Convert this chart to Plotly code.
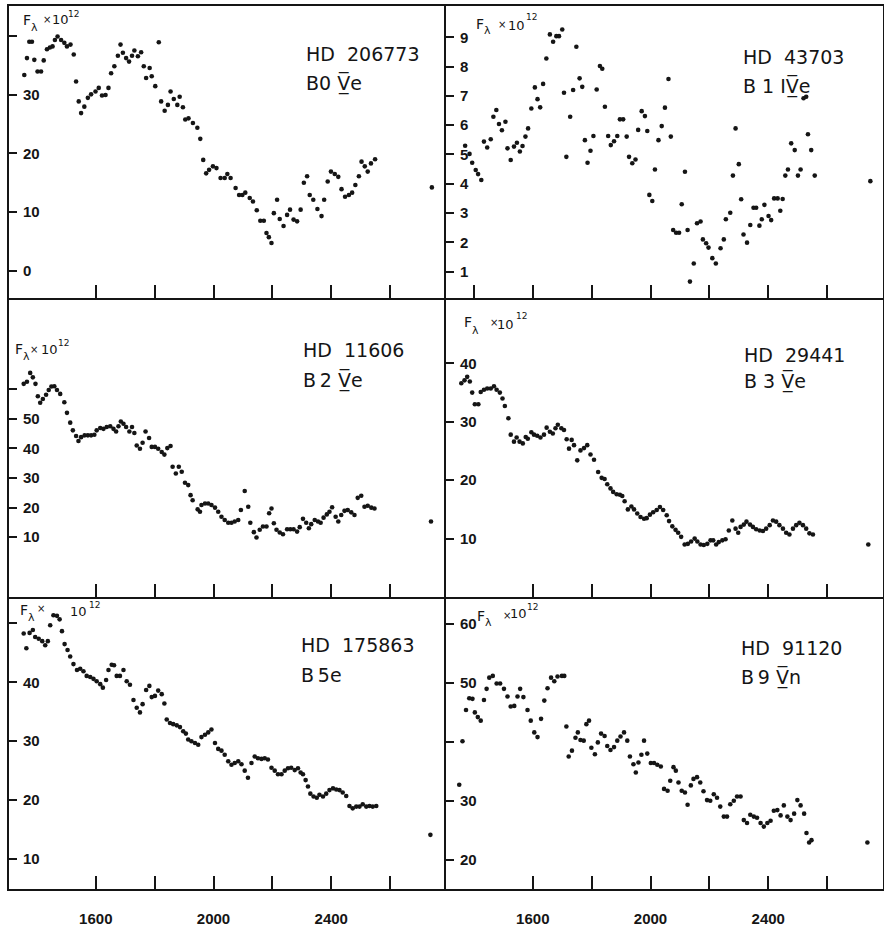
import plotly.graph_objects as go
from plotly.subplots import make_subplots

# ---------------- data (wavelength in Angstrom, flux F_lambda x 10^12) ----------------
HD206773 = [(1357,33.4),(1366,36.3),(1374,39.1),(1383,39.1),(1391,36.0),(1402,34.0),(1414,34.0),(1423,35.9),
            (1434,37.8),(1444,38.1),(1453,38.3),(1461,39.4),(1470,40.0),(1482,39.4),(1493,38.9),(1502,38.3),
            (1514,38.6),(1525,36.9),(1533,32.3),(1542,28.9),(1550,26.9),(1561,28.0),(1573,29.5),(1584,30.1),
            (1599,30.6),(1610,31.2),(1621,29.9),(1633,30.0),(1643,31.2),(1652,33.7),(1663,34.9),(1675,36.7),
            (1684,38.6),(1692,37.2),(1703,36.3),(1713,35.7),(1723,36.7),(1731,37.6),(1743,36.6),(1754,37.3),
            (1763,34.9),(1771,32.9),(1783,34.6),(1790,33.2),(1802,31.5),(1814,39.0),(1822,28.9),(1834,27.3),
            (1845,28.3),(1854,30.6),(1865,29.3),(1877,28.3),(1885,29.7),(1896,27.9),(1904,25.8),(1915,26.0),
            (1930,25.2),(1945,24.4),(1955,22.5),(1965,18.9),(1975,16.6),(1985,17.2),(1998,17.8),(2010,17.5),
            (2024,15.8),(2038,15.8),(2047,16.5),(2058,15.8),(2075,14.1),(2087,12.9),(2098,12.9),(2108,13.3),
            (2123,12.4),(2134,11.8),(2147,10.3),(2159,8.5),(2171,8.5),(2180,6.4),(2188,5.7),(2197,4.7),
            (2205,9.8),(2216,12.1),(2225,8.8),(2238,7.6),(2250,9.5),(2260,10.4),(2272,8.7),(2284,8.4),
            (2296,10.4),(2307,15.0),(2318,16.1),(2327,12.9),(2339,12.1),(2353,10.5),(2367,9.3),(2376,12.1),
            (2388,15.2),(2399,16.9),(2412,16.5),(2424,16.0),(2435,13.9),(2447,12.6),(2460,12.9),(2471,13.3),
            (2482,14.6),(2494,16.1),(2503,18.6),(2514,17.8),(2524,16.9),(2535,18.3),(2549,19.0),(2742,14.2)]

HD43703 = [(1370,5.30),(1385,5.02),(1394,4.72),(1406,4.47),(1414,4.33),(1425,4.13),(1434,5.44),(1445,5.24),
           (1457,5.52),(1466,6.29),(1476,6.52),(1485,6.04),(1495,5.83),(1507,6.12),(1514,5.21),(1525,4.81),
           (1536,5.27),(1546,5.40),(1556,5.10),(1565,5.29),(1575,5.61),(1584,5.89),(1595,6.57),(1607,7.29),
           (1616,6.89),(1625,6.61),(1635,7.41),(1646,8.28),(1658,9.10),(1669,8.85),(1680,9.04),(1689,9.04),
           (1700,9.27),(1706,7.11),(1714,4.92),(1727,6.29),(1737,7.20),(1748,8.68),(1759,7.60),(1768,7.31),
           (1777,5.49),(1786,4.72),(1796,5.13),(1806,5.63),(1817,7.22),(1828,8.02),(1836,7.93),(1845,6.63),
           (1856,5.63),(1865,5.32),(1876,5.45),(1887,5.63),(1896,6.20),(1907,6.20),(1919,5.61),(1927,4.92),
           (1938,4.70),(1949,4.83),(1958,5.84),(1970,6.48),(1981,6.31),(1989,5.80),(1996,3.62),(2006,3.41),
           (2015,4.49),(2027,5.49),(2038,5.97),(2049,6.60),(2061,7.58),(2069,5.61),(2077,2.42),(2087,2.33),
           (2097,2.33),(2106,3.30),(2117,4.41),(2126,2.42),(2134,0.66),(2147,1.28),(2158,2.65),(2170,2.71),
           (2178,2.10),(2189,1.97),(2197,1.82),(2210,1.46),(2222,1.28),(2238,1.80),(2249,2.10),(2256,2.79),
           (2271,3.01),(2280,4.28),(2289,5.89),(2300,4.67),(2308,3.47),(2316,2.27),(2328,1.99),(2339,2.59),
           (2350,3.18),(2359,3.18),(2370,2.57),(2378,2.79),(2387,3.28),(2401,2.90),(2410,2.76),(2420,3.50),
           (2432,3.50),(2441,3.08),(2449,3.48),(2458,4.28),(2467,4.49),(2478,5.38),(2490,5.15),(2501,4.28),
           (2510,4.49),(2520,6.92),(2529,6.97),(2535,5.69),(2546,5.15),(2558,4.28),(2747,4.09)]

HD11606 = [(1355,61.8),(1366,62.5),(1377,65.5),(1386,64.0),(1395,61.8),(1403,57.6),(1411,55.4),(1420,56.7),
           (1431,58.1),(1440,59.7),(1449,60.9),(1459,61.0),(1468,59.7),(1479,58.4),(1493,55.6),(1502,52.0),
           (1513,48.7),(1522,46.1),(1533,44.2),(1541,42.5),(1550,43.8),(1562,44.4),(1573,44.4),(1584,44.4),
           (1595,44.6),(1603,46.1),(1615,46.9),(1626,46.6),(1637,47.2),(1649,47.5),(1660,46.6),(1669,45.7),
           (1677,47.5),(1685,49.1),(1694,48.3),(1703,47.2),(1714,45.7),(1723,47.2),(1731,45.2),(1739,41.0),
           (1750,39.9),(1759,41.9),(1769,45.7),(1781,43.5),(1790,40.5),(1801,40.5),(1812,39.9),(1824,38.8),
           (1833,37.9),(1843,40.1),(1854,40.8),(1861,33.8),(1872,31.5),(1882,33.8),(1892,32.1),(1903,28.4),
           (1914,27.6),(1922,24.2),(1929,22.5),(1946,19.4),(1954,18.6),(1959,20.9),(1971,21.4),(1982,21.4),
           (1993,20.9),(2005,20.0),(2016,18.6),(2027,16.9),(2038,15.8),(2050,14.9),(2061,14.9),(2072,15.3),
           (2084,15.8),(2093,19.2),(2106,25.6),(2118,20.3),(2125,14.9),(2137,11.7),(2146,9.9),(2157,12.5),
           (2168,13.6),(2180,13.6),(2189,18.1),(2197,19.7),(2205,14.7),(2214,12.5),(2225,11.6),(2236,11.0),
           (2250,12.7),(2261,12.7),(2272,12.7),(2284,11.9),(2293,13.4),(2304,16.2),(2315,14.9),(2324,13.0),
           (2332,14.4),(2344,15.8),(2355,15.3),(2364,14.9),(2374,16.6),(2385,17.7),(2394,18.6),(2403,20.1),
           (2415,16.9),(2424,15.3),(2434,17.5),(2445,18.9),(2456,19.2),(2468,18.4),(2479,17.5),(2490,23.3),
           (2502,24.0),(2513,20.3),(2524,20.6),(2536,20.0),(2547,19.7),(2739,15.3)]

HD29441 = [(1357,36.6),(1368,37.1),(1377,37.7),(1386,36.9),(1394,35.0),(1403,33.0),(1415,33.0),(1423,35.1),
           (1434,35.5),(1445,35.7),(1457,35.7),(1468,36.1),(1477,35.5),(1488,35.0),(1497,34.0),(1505,32.7),
           (1517,30.6),(1525,27.8),(1536,26.6),(1545,27.3),(1555,26.6),(1566,26.3),(1576,27.4),(1583,27.1),
           (1595,28.2),(1604,27.8),(1615,27.6),(1626,27.3),(1638,27.8),(1647,29.0),(1658,28.3),(1668,28.0),
           (1677,28.9),(1685,29.5),(1697,28.9),(1706,28.6),(1715,27.0),(1723,25.4),(1732,26.9),(1740,26.0),
           (1751,23.4),(1762,25.1),(1774,25.5),(1785,26.0),(1796,24.4),(1808,23.5),(1822,21.4),(1834,20.4),
           (1844,20.2),(1853,19.3),(1864,18.6),(1873,18.0),(1885,17.6),(1896,17.5),(1904,17.3),(1912,16.4),
           (1923,15.0),(1935,15.5),(1944,15.0),(1955,14.3),(1966,13.7),(1978,13.4),(1987,13.5),(1998,14.1),
           (2009,14.5),(2021,14.9),(2032,15.4),(2043,14.9),(2055,14.0),(2063,13.0),(2074,12.1),(2085,11.5),
           (2094,11.0),(2104,10.3),(2116,9.0),(2127,9.1),(2138,9.5),(2150,10.0),(2159,9.5),(2170,9.0),
           (2181,8.9),(2193,9.1),(2204,9.7),(2213,9.7),(2223,9.0),(2232,9.4),(2244,9.7),(2255,9.9),
           (2266,11.4),(2278,13.1),(2289,11.7),(2298,11.0),(2306,12.0),(2317,12.4),(2326,12.9),(2338,12.4),
           (2348,12.0),(2359,11.6),(2371,11.4),(2382,11.3),(2393,11.7),(2405,12.3),(2416,13.1),(2427,12.9),
           (2438,12.3),(2450,11.7),(2461,11.0),(2472,10.7),(2484,11.7),(2495,12.3),(2506,12.7),(2518,12.3),
           (2529,11.7),(2540,10.9),(2552,10.7),(2740,9.0)]

HD175863 = [(1355,48.3),(1364,45.8),(1375,48.4),(1386,48.9),(1394,47.7),(1406,47.4),(1418,47.0),(1428,46.3),
            (1437,47.0),(1445,49.7),(1456,51.4),(1468,51.3),(1477,50.7),(1485,48.7),(1494,46.5),(1504,45.5),
            (1513,44.4),(1524,43.1),(1536,42.1),(1547,42.3),(1558,41.9),(1569,41.1),(1581,40.9),(1592,40.6),
            (1603,40.2),(1615,39.7),(1624,39.1),(1635,40.4),(1643,42.1),(1654,43.0),(1662,42.9),(1671,41.1),
            (1682,41.1),(1694,42.1),(1705,40.2),(1716,39.6),(1728,37.0),(1739,35.7),(1750,34.9),(1759,36.3),
            (1771,38.7),(1782,39.4),(1790,37.5),(1801,37.7),(1812,38.6),(1824,38.0),(1833,36.4),(1841,33.7),
            (1852,33.1),(1863,32.9),(1875,32.7),(1886,32.4),(1897,31.7),(1906,31.3),(1914,30.3),(1925,30.0),
            (1937,29.7),(1948,29.4),(1959,30.7),(1971,31.1),(1982,31.5),(1993,32.0),(2005,29.7),(2016,28.7),
            (2027,28.4),(2038,27.7),(2050,26.6),(2061,26.0),(2072,26.3),(2084,26.6),(2095,26.1),(2106,25.0),
            (2117,23.8),(2129,26.3),(2140,27.4),(2151,27.1),(2163,27.0),(2174,27.1),(2185,26.9),(2197,25.5),
            (2208,25.0),(2219,24.4),(2231,24.4),(2242,25.0),(2253,25.4),(2264,25.5),(2276,25.1),(2287,25.4),
            (2296,24.7),(2304,24.4),(2313,23.4),(2321,22.3),(2329,21.1),(2340,20.6),(2351,20.4),(2360,20.9),
            (2372,20.6),(2383,21.1),(2394,21.7),(2406,22.0),(2417,21.8),(2428,21.7),(2439,21.3),(2451,20.7),
            (2462,19.0),(2473,18.6),(2485,18.9),(2496,18.9),(2507,19.3),(2519,18.9),(2530,19.0),(2541,18.9),
            (2553,19.0),(2737,14.1)]

HD91120 = [(1350,32.7),(1361,40.1),(1373,45.4),(1384,47.4),(1395,47.3),(1403,45.0),(1413,44.2),(1423,43.6),
           (1434,47.1),(1443,49.0),(1452,50.9),(1464,51.2),(1477,49.9),(1489,49.9),(1502,49.0),(1514,47.7),
           (1525,46.0),(1537,46.1),(1548,47.7),(1557,49.0),(1568,47.6),(1582,45.4),(1593,43.6),(1605,41.6),
           (1616,40.8),(1628,43.9),(1639,47.0),(1650,49.1),(1662,50.9),(1673,50.3),(1684,51.1),(1699,51.2),
           (1707,51.2),(1714,42.6),(1722,37.5),(1733,38.5),(1745,40.7),(1753,41.6),(1762,40.3),(1773,40.2),
           (1782,43.0),(1791,43.6),(1799,39.0),(1811,37.9),(1821,39.9),(1832,41.4),(1844,41.0),(1853,39.3),
           (1864,38.6),(1876,39.1),(1887,40.2),(1898,40.9),(1910,41.6),(1921,40.2),(1930,37.5),(1942,36.2),
           (1950,34.8),(1959,36.5),(1969,37.8),(1978,40.2),(1989,38.0),(2001,36.4),(2012,36.4),(2023,36.1),
           (2035,35.8),(2046,32.0),(2058,31.7),(2067,33.4),(2078,35.7),(2086,35.1),(2095,33.1),(2106,31.7),
           (2117,31.4),(2126,29.3),(2137,32.6),(2146,33.7),(2158,34.0),(2169,33.1),(2180,31.6),(2192,30.1),
           (2203,30.0),(2215,31.1),(2226,30.5),(2237,29.0),(2249,27.3),(2260,27.3),(2271,29.4),(2283,30.0),
           (2294,30.7),(2306,30.7),(2317,26.7),(2328,26.2),(2339,27.6),(2351,27.3),(2362,27.1),(2374,26.2),
           (2385,25.6),(2397,26.2),(2408,26.6),(2419,28.3),(2431,28.4),(2442,27.5),(2453,29.2),(2465,27.3),
           (2476,26.7),(2488,27.8),(2499,30.1),(2510,29.2),(2522,27.8),(2530,24.5),(2539,22.9),(2547,23.3),
           (2737,22.9)]

STAR_NAMES = ["HD\u00a0 206773", "HD\u00a0 43703", "HD\u00a0 11606", "HD\u00a0 29441", "HD\u00a0 175863", "HD\u00a0 91120"]
SPECTRAL_TYPES = ["B0 V\u0305\u0332e", "B 1 IV\u0305\u0332e", "B\u20092 V\u0305\u0332e", "B 3 V\u0305\u0332e",
                  "B\u20095e", "B\u20099 V\u0305\u0332n"]
# axis unit label "F_lambda x 10^12", split into its pieces
UNIT_PIECES = ["F", "λ", "×", "10", "12"]

X_TICKS = [1600, 2000, 2400]
X_MINOR_TICKS = [1400, 1800, 2200, 2600]
X_ALL_TICKS = [1400, 1600, 1800, 2000, 2200, 2400, 2600]
X_RANGE = [1305, 2790]

Y_TICKS = [[0, 10, 20, 30], [1, 2, 3, 4, 5, 6, 7, 8, 9], [10, 20, 30, 40, 50],
           [10, 20, 30, 40], [10, 20, 30, 40], [20, 30, 50, 60]]
Y_MINOR_TICKS = [[40], [], [60], [], [50], [40]]
Y_RANGES = [[-4.7, 45.2], [0.1, 10.07], [-10.2, 90.8], [0.0, 51.2], [4.9, 54.5], [15.0, 64.6]]

SERIES = [HD206773, HD43703, HD11606, HD29441, HD175863, HD91120]

# ---------------- layout geometry (pixels) ----------------
W, H = 884, 931
COL_PX = [(9, 446), (446, 883)]
ROW_PX = [(6, 298), (298, 597), (597, 889)]
NAME_POS = [(304, 54), (741, 57), (301, 350), (742, 355), (299, 645), (739, 648)]
TYPE_POS = [(304, 83), (741, 86), (301, 380), (742, 381), (299, 675), (739, 677)]
# pixel positions (left x, centre y) of the unit-label pieces F, lambda, x, 10, 12 per panel
UNIT_POS = [
    [(22, 20), (30, 27), (42, 20), (51, 20), (67, 14)],
    [(475, 24), (483, 31), (497, 24), (507, 25), (525, 17)],
    [(14, 349), (22, 356), (29, 349), (40, 349), (57, 343)],
    [(463, 322), (471, 330), (489, 323), (496, 324), (515, 316)],
    [(19, 610), (27, 617), (36, 608), (69, 611), (88, 605)],
    [(476, 616), (484, 622), (502, 615), (509, 613), (526, 607)],
]
UNIT_SIZES = [14, 11, 10, 13, 9]

INK = "#151515"
TICKFONT = dict(family="Liberation Sans", size=15, color=INK, weight="bold")
fig = make_subplots(rows=3, cols=2, horizontal_spacing=0, vertical_spacing=0)

for i, data in enumerate(SERIES):
    r, c = i // 2 + 1, i % 2 + 1
    xs = [p[0] for p in data]
    ys = [p[1] for p in data]
    fig.add_trace(go.Scatter(x=xs, y=ys, mode="markers",
                             marker=dict(size=4.6, color=INK), showlegend=False,
                             hoverinfo="skip"), row=r, col=c)
    x0, x1 = COL_PX[c - 1]
    y0, y1 = ROW_PX[r - 1]
    bottom = (r == 3)
    fig.update_xaxes(domain=[x0 / W, x1 / W], range=X_RANGE, tickmode="array",
                     tickvals=X_TICKS if bottom else [], ticks="inside", ticklen=13,
                     tickwidth=2, tickcolor=INK, showline=True, linewidth=2, linecolor=INK,
                     mirror=(r == 1), showgrid=False, zeroline=False,
                     minor=dict(tickmode="array", tickvals=X_MINOR_TICKS if bottom else X_ALL_TICKS,
                                ticks="inside", ticklen=13, tickwidth=2, tickcolor=INK, showgrid=False),
                     showticklabels=bottom, ticklabelstandoff=15, tickfont=TICKFONT,
                     row=r, col=c)
    fig.update_yaxes(domain=[1 - y1 / H, 1 - y0 / H], range=Y_RANGES[i], tickmode="array",
                     tickvals=Y_TICKS[i], ticks="inside", ticklen=8,
                     tickwidth=2, tickcolor=INK, showline=True, linewidth=2, linecolor=INK,
                     mirror=(c == 2), showgrid=False, zeroline=False,
                     minor=dict(tickmode="array", tickvals=Y_MINOR_TICKS[i], ticks="inside", ticklen=8,
                                tickwidth=2, tickcolor=INK, showgrid=False),
                     ticklabelposition="inside", ticklabelstandoff=6, tickfont=TICKFONT,
                     row=r, col=c)

annotations = []
for i in range(6):
    nx, ny = NAME_POS[i]
    tx, ty = TYPE_POS[i]
    annotations.append(dict(x=nx / W, y=1 - ny / H, xref="paper", yref="paper", text=STAR_NAMES[i],
                            showarrow=False, xanchor="left", yanchor="middle",
                            font=dict(family="DejaVu Sans", size=19, color=INK)))
    annotations.append(dict(x=tx / W, y=1 - ty / H, xref="paper", yref="paper", text=SPECTRAL_TYPES[i],
                            showarrow=False, xanchor="left", yanchor="middle",
                            font=dict(family="DejaVu Sans", size=19, color=INK)))
    for piece, (px, py), fs in zip(UNIT_PIECES, UNIT_POS[i], UNIT_SIZES):
        annotations.append(dict(x=px / W, y=1 - py / H, xref="paper", yref="paper", text=piece,
                                showarrow=False, xanchor="left", yanchor="middle",
                                borderpad=0, font=dict(family="DejaVu Sans", size=fs, color=INK)))

fig.update_layout(width=W, height=H, margin=dict(l=0, r=0, t=0, b=0),
                  paper_bgcolor="white", plot_bgcolor="white", annotations=annotations)

fig.write_html("out.html", config={"displayModeBar": False},
               post_script="document.body.style.margin='0px';")
